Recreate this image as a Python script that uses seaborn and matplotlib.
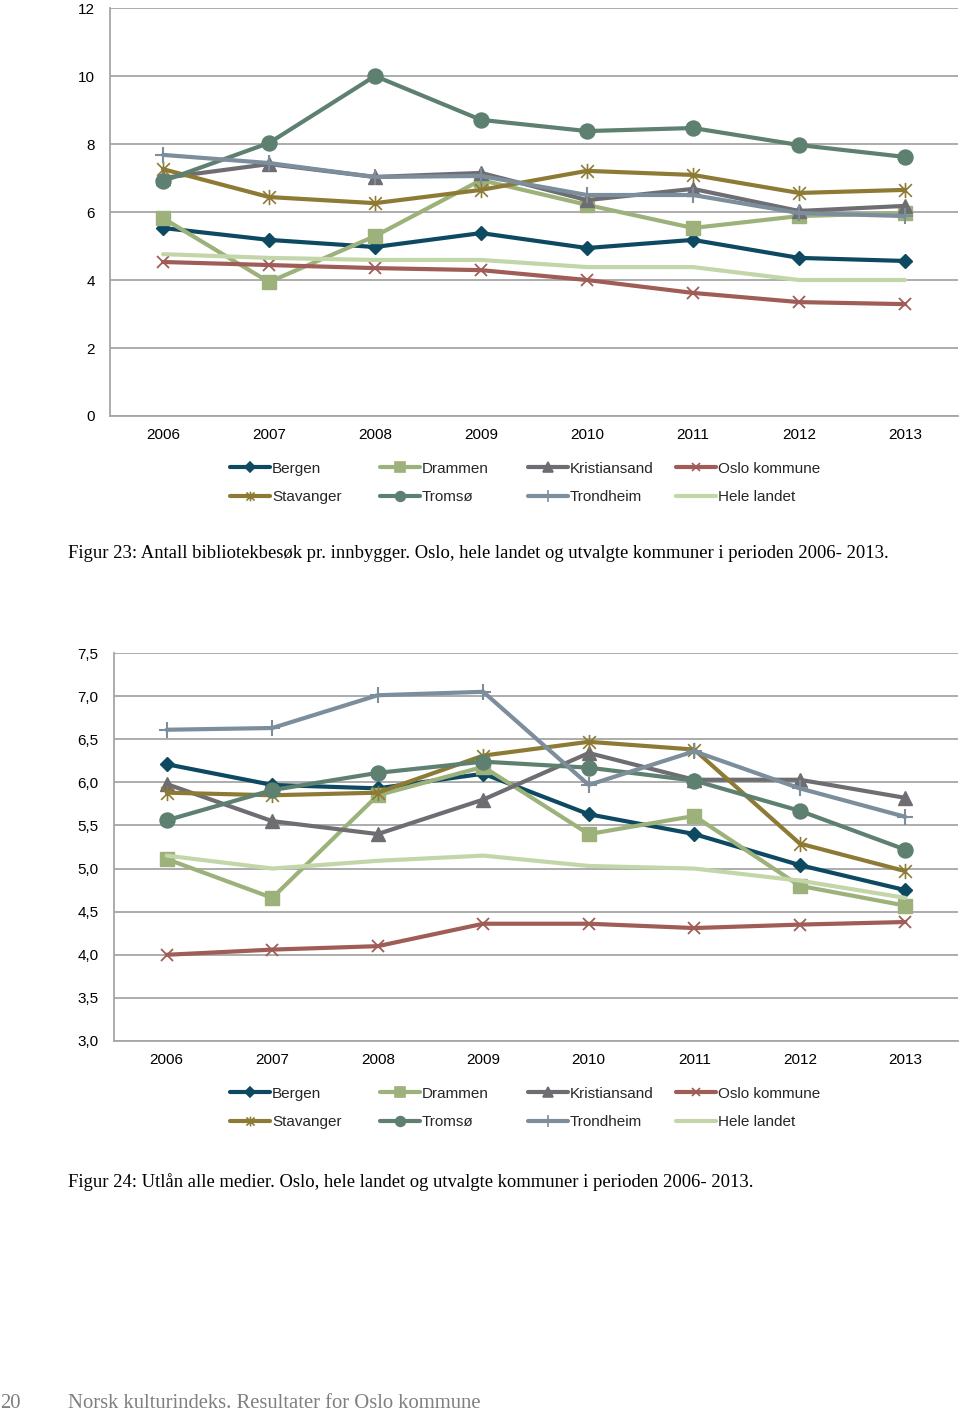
import numpy as np
import pandas as pd
import matplotlib
matplotlib.use("Agg")
import matplotlib.pyplot as plt
from matplotlib.lines import Line2D
from matplotlib.ticker import FixedLocator, FuncFormatter
import seaborn as sns

years = ["2006", "2007", "2008", "2009", "2010", "2011", "2012", "2013"]
series = ["Bergen", "Drammen", "Kristiansand", "Oslo kommune",
          "Stavanger", "Tromsø", "Trondheim", "Hele landet"]

# Figur 23: Antall bibliotekbesøk pr. innbygger
visits_bergen = [5.53, 5.18, 4.97, 5.38, 4.94, 5.18, 4.65, 4.56]
visits_drammen = [5.82, 3.94, 5.29, 6.94, 6.21, 5.53, 5.88, 5.97]
visits_kristiansand = [7.00, 7.41, 7.03, 7.15, 6.35, 6.68, 6.03, 6.18]
visits_oslo = [4.53, 4.44, 4.35, 4.29, 4.00, 3.62, 3.35, 3.29]
visits_stavanger = [7.26, 6.44, 6.26, 6.65, 7.21, 7.09, 6.56, 6.65]
visits_tromso = [6.91, 8.03, 10.0, 8.71, 8.38, 8.47, 7.97, 7.62]
visits_trondheim = [7.68, 7.44, 7.03, 7.06, 6.50, 6.50, 5.97, 5.88]
visits_hele = [4.76, 4.65, 4.59, 4.59, 4.38, 4.38, 4.00, 4.00]

# Figur 24: Utlån alle medier
loans_bergen = [6.21, 5.97, 5.93, 6.10, 5.63, 5.40, 5.04, 4.75]
loans_drammen = [5.11, 4.66, 5.85, 6.18, 5.40, 5.61, 4.80, 4.57]
loans_kristiansand = [5.98, 5.55, 5.40, 5.80, 6.34, 6.03, 6.03, 5.82]
loans_oslo = [4.00, 4.06, 4.10, 4.36, 4.36, 4.31, 4.35, 4.38]
loans_stavanger = [5.88, 5.85, 5.88, 6.31, 6.47, 6.38, 5.29, 4.97]
loans_tromso = [5.56, 5.91, 6.11, 6.24, 6.17, 6.02, 5.67, 5.22]
loans_trondheim = [6.61, 6.63, 7.01, 7.05, 5.97, 6.36, 5.93, 5.60]
loans_hele = [5.15, 5.00, 5.09, 5.15, 5.03, 5.00, 4.86, 4.66]

visits = [visits_bergen, visits_drammen, visits_kristiansand, visits_oslo,
          visits_stavanger, visits_tromso, visits_trondheim, visits_hele]
loans = [loans_bergen, loans_drammen, loans_kristiansand, loans_oslo,
         loans_stavanger, loans_tromso, loans_trondheim, loans_hele]

colors = ["#0d4a62", "#9db27b", "#6e6d72", "#a05c56",
          "#8d7b35", "#5e8070", "#7c8d9b", "#c3d6a9"]
asterisk = (4, 2, 0)
markers = ["D", "s", "^", "x", "*", "o", "+", None]
msizes = [7.6, 10, 10, 9, 11, 10.8, 11, 0]
mews = [1, 1, 1, 1.3, 1.2, 1, 1.5, 1]

sns.set_theme(style="white")
plt.rcParams["font.family"] = ["Liberation Sans", "DejaVu Sans"]

grid_c = "#a6a6a6"
tick_fs = 11

fig = plt.figure(figsize=(9.6, 14.14), dpi=100)
ax1 = fig.add_axes([110 / 960, 1 - 416 / 1414, 848 / 960, 408 / 1414])
ax2 = fig.add_axes([114 / 960, 1 - 1041 / 1414, 844 / 960, 388 / 1414])


def star_marker():
    # Excel-like asterisk: an "x" plus a vertical bar
    from matplotlib.path import Path
    verts = [(-1, -1), (1, 1), (-1, 1), (1, -1), (0, -1.2), (0, 1.2)]
    codes = [Path.MOVETO, Path.LINETO, Path.MOVETO, Path.LINETO, Path.MOVETO, Path.LINETO]
    return Path(verts, codes)


STAR = star_marker()


def draw(ax, data_lists):
    xpos = np.arange(len(years))
    for name, vals, c, m, ms, mew in zip(series, data_lists, colors, markers, msizes, mews):
        df = pd.DataFrame({"x": xpos, "y": vals})
        kw = dict(color=c, lw=3.0, legend=False, ax=ax)
        if m is not None:
            mk = STAR if m == "*" else m
            kw.update(marker=mk, markersize=ms, markeredgewidth=mew,
                      markeredgecolor=c, markerfacecolor=c)
        sns.lineplot(data=df, x="x", y="y", **kw)
    ax.set_xlim(-0.5, len(years) - 0.5)
    ax.set_xticks(xpos)
    ax.set_xticklabels(years, fontsize=tick_fs, color="black")
    ax.xaxis.set_minor_locator(FixedLocator(np.arange(-0.5, len(years), 1.0)))
    ax.tick_params(axis="x", which="major", length=0, pad=9)
    ax.tick_params(axis="x", which="minor", length=5, width=1.2, color=grid_c, direction="out")
    ax.tick_params(axis="y", which="major", length=6, width=1.2, color=grid_c,
                   direction="out", labelsize=tick_fs, labelcolor="black", pad=5)
    ax.yaxis.grid(True, color=grid_c, lw=1.3)
    ax.set_axisbelow(True)
    for s in ["top", "right"]:
        ax.spines[s].set_visible(False)
    for s in ["left", "bottom"]:
        ax.spines[s].set_color(grid_c)
        ax.spines[s].set_linewidth(1.3)
    ax.set_xlabel("")
    ax.set_ylabel("")


draw(ax1, visits)
ax1.set_ylim(0, 12)
ax1.set_yticks(np.arange(0, 13, 2))
ax1.yaxis.set_major_formatter(FuncFormatter(lambda v, p: f"{v:.0f}"))

draw(ax2, loans)
ax2.set_ylim(3.0, 7.5)
ax2.set_yticks(np.arange(3.0, 7.51, 0.5))
ax2.yaxis.set_major_formatter(FuncFormatter(lambda v, p: f"{v:.1f}".replace(".", ",")))

# legends: four columns, each a two-row legend
leg_ms = [5.5, 7, 7, 6, 7, 7, 8, 0]
col_x = [230, 380, 528, 676]


def handle(i):
    m = markers[i]
    if m is None:
        m = ""
    elif m == "*":
        m = STAR
    return Line2D([], [], color=colors[i], lw=3.0, marker=m,
                  markersize=leg_ms[i], markeredgewidth=1.2,
                  markerfacecolor=colors[i], markeredgecolor=colors[i])


for yc in [1 - 483 / 1414, 1 - 1108 / 1414]:
    for j, xc in enumerate(col_x):
        idx = [j, j + 4]
        fig.legend([handle(i) for i in idx], [series[i] for i in idx],
                   loc="center left", bbox_to_anchor=(xc / 960, yc), ncol=1,
                   frameon=False, fontsize=tick_fs, handlelength=2.6,
                   handletextpad=0.15, borderpad=0, borderaxespad=0,
                   labelspacing=0.95)

serif = ["Liberation Serif", "DejaVu Serif"]
fig.text(68 / 960, 1 - 554 / 1414,
         "Figur 23: Antall bibliotekbesøk pr. innbygger. Oslo, hele landet og utvalgte kommuner i perioden 2006- 2013.",
         family=serif, fontsize=13.45, va="center", ha="left", color="black")
fig.text(68 / 960, 1 - 1182 / 1414,
         "Figur 24: Utlån alle medier. Oslo, hele landet og utvalgte kommuner i perioden 2006- 2013.",
         family=serif, fontsize=13.45, va="center", ha="left", color="black")
fig.text(0 / 960, 1 - 1404 / 1414, "20", family=serif, fontsize=14.9,
         va="center", ha="left", color="#7f7f7f")
fig.text(68 / 960, 1 - 1404 / 1414, "Norsk kulturindeks. Resultater for Oslo kommune",
         family=serif, fontsize=14.9, va="center", ha="left", color="#7f7f7f")

fig.savefig("out.png", dpi=100, facecolor="white")
